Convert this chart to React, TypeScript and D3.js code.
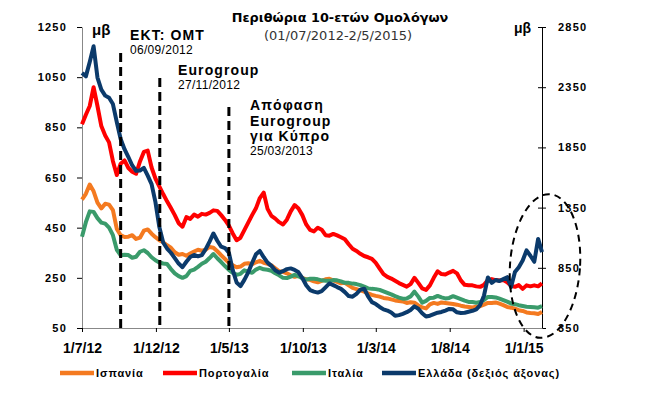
import React, { useEffect, useRef } from "react";
import * as d3 from "d3";

// x grid: one reading every 8 days, 01/07/2012 .. 08/02/2015
const dates = d3.timeDay.range(new Date(2012, 6, 1), new Date(2015, 1, 9), 8);

// 10y spreads, basis points (left axis)
const spain = [562, 585, 622, 595, 550, 527, 545, 542, 520, 445,
  420, 413, 414, 420, 405, 410, 438, 443, 426, 412,
  400, 392, 380, 370, 352, 342, 345, 338, 347, 355,
  362, 358, 362, 373, 370, 356, 340, 325, 310, 300,
  292, 295, 306, 308, 304, 312, 318, 310, 306, 300,
  288, 276, 274, 268, 260, 254, 258, 250, 244, 242,
  236, 232, 238, 244, 246, 240, 234, 228, 230, 220,
  210, 205, 200, 195, 188, 182, 178, 175, 170, 168,
  164, 160, 158, 156, 150, 153, 151, 140, 132, 128,
  144, 150, 146, 152, 150, 148, 146, 143, 139, 136,
  134, 132, 135, 137, 143, 150, 150, 152, 147, 141,
  134, 131, 127, 121, 118, 112, 110, 109, 106, 114];

const portugal = [862, 900, 935, 1010, 935, 855, 817, 790, 715, 660,
  705, 718, 688, 673, 665, 714, 752, 757, 690, 646,
  615, 584, 555, 528, 500, 468, 454, 492, 485, 502,
  494, 505, 502, 509, 519, 517, 500, 481, 458, 427,
  400, 410, 440, 470, 500, 527, 568, 590, 525, 497,
  486, 472, 463, 482, 515, 540, 526, 500, 463, 441,
  435, 450, 442, 420, 418, 425, 419, 412, 404, 384,
  366, 357, 346, 337, 332, 326, 310, 287, 265, 254,
  247, 238, 229, 222, 215, 225, 250, 230, 208, 202,
  220, 250, 276, 265, 263, 271, 278, 268, 240, 222,
  220, 220, 216, 214, 222, 241, 245, 241, 239, 241,
  232, 218, 214, 221, 206, 220, 216, 220, 216, 228];

const italy = [414, 472, 515, 513, 488, 470, 466, 450, 420, 362,
  340, 342, 341, 330, 334, 354, 360, 349, 332, 320,
  311, 307, 305, 285, 268, 257, 250, 257, 278, 283,
  294, 306, 314, 329, 345, 328, 313, 297, 282, 270,
  262, 266, 280, 275, 270, 283, 290, 284, 282, 278,
  268, 260, 250, 249, 255, 262, 256, 248, 243, 246,
  246, 244, 240, 238, 238, 241, 240, 236, 230, 230,
  227, 225, 221, 215, 208, 206, 205, 202, 196, 190,
  184, 177, 171, 167, 168, 176, 195, 175, 151, 158,
  170, 171, 178, 172, 168, 170, 177, 171, 165, 159,
  154, 154, 151, 154, 162, 174, 174, 172, 167, 161,
  155, 148, 145, 141, 138, 135, 134, 133, 131, 137];

// Greece, right axis
const greece = [2468, 2440, 2560, 2690, 2430, 2330, 2280, 2262, 2210, 2060,
  1920, 1835, 1770, 1700, 1655, 1658, 1680, 1615, 1545, 1395,
  1190, 1060, 1010, 975, 930, 885, 855, 900, 940, 957,
  945, 955, 1005, 1068, 1135, 1075, 1025, 1014, 975, 830,
  728, 698, 750, 812, 890, 962, 990, 938, 893, 866,
  830, 810, 822, 839, 845, 833, 813, 765, 705, 665,
  652, 644, 656, 688, 720, 706, 690, 675, 648, 615,
  610, 633, 668, 676, 612, 565, 549, 525, 505, 495,
  478, 451, 457, 468, 481, 500, 530, 510, 472, 445,
  452, 465, 477, 483, 495, 508, 505, 480, 475, 477,
  485, 493, 505, 540, 620, 770, 724, 749, 740, 756,
  772, 690, 815, 855, 910, 995, 950, 900, 1090, 980];

const seriesNames = ["Ισπανία", "Πορτογαλία", "Ιταλία", "Ελλάδα (δεξιός άξονας)"];
const seriesColors = ["#F47A20", "#FF0000", "#3A9B6B", "#0B3A6B"];

const leftTicks = [50, 250, 450, 650, 850, 1050, 1250];
const rightTicks = [350, 850, 1350, 1850, 2350, 2850];
const xTicks = ["2012-07-01", "2012-12-01", "2013-05-01", "2013-10-01", "2014-03-01", "2014-08-01", "2015-01-01"];

const eventDates = ["2012-09-19", "2012-12-09", "2013-05-01"];
const eventTitles = [["ΕΚΤ: ΟΜΤ"], ["Eurogroup"], ["Απόφαση", "Eurogroup", "για Κύπρο"]];
const eventLabels = ["06/09/2012", "27/11/2012", "25/03/2013"];

const parse = d3.timeParse("%Y-%m-%d");

export default function App() {
  const ref = useRef<SVGSVGElement>(null);

  useEffect(() => {
    const width = 649;
    const height = 393;
    const left = 82, right = 542, top = 27, bottom = 328;

    const svg = d3.select(ref.current)
      .attr("width", width)
      .attr("height", height);
    svg.selectAll("*").remove();

    const font = "'Liberation Sans', Arial, sans-serif";

    const x = d3.scaleTime()
      .domain([new Date(2012, 6, 1), new Date(2015, 1, 8)])
      .range([left, right]);
    const yLeft = d3.scaleLinear().domain([50, 1250]).range([bottom, top]);
    const yRight = d3.scaleLinear().domain([350, 2850]).range([bottom, top]);

    // title
    svg.append("text")
      .attr("x", 340).attr("y", 22)
      .attr("text-anchor", "middle")
      .style("font-family", "'DejaVu Sans', Verdana, sans-serif")
      .style("font-weight", "bold")
      .style("font-size", "12.8px")
      .text("Περιθώρια 10-ετών Ομολόγων");
    svg.append("text")
      .attr("x", 338).attr("y", 40)
      .attr("text-anchor", "middle")
      .style("font-family", "'DejaVu Sans', Verdana, sans-serif")
      .style("font-size", "13px")
      .style("fill", "#333")
      .text("(01/07/2012-2/5/2015)");

    // axes
    const leftAxis = svg.append("g")
      .attr("transform", `translate(${left},0)`)
      .call(d3.axisLeft(yLeft).tickValues(leftTicks).tickFormat(d3.format("d")).tickSize(5).tickSizeOuter(0).tickPadding(10));
    leftAxis.select(".domain").attr("stroke", "#888");

    const rightAxis = svg.append("g")
      .attr("transform", `translate(${right},0)`)
      .call(d3.axisRight(yRight).tickValues(rightTicks).tickFormat(d3.format("d")).tickSize(4).tickSizeOuter(0).tickPadding(12));
    rightAxis.selectAll(".tick line").attr("x1", -4);

    const xAxis = svg.append("g")
      .attr("transform", `translate(0,${bottom})`)
      .call(d3.axisBottom(x)
        .tickValues(xTicks.map(d => parse(d) as Date))
        .tickFormat(d3.timeFormat("%-d/%-m/%y") as any)
        .tickSize(4).tickSizeOuter(0).tickPadding(11));
    xAxis.select(".domain").attr("stroke", "#888");

    [leftAxis, rightAxis].forEach(g => {
      g.selectAll("text")
        .style("font-family", font)
        .style("font-weight", "bold")
        .style("font-size", "11px")
        .style("letter-spacing", "1.2px")
        .attr("fill", "#000");
    });
    xAxis.selectAll("text")
      .style("font-family", font)
      .style("font-weight", "bold")
      .style("font-size", "14px")
      .attr("fill", "#000");

    // units
    svg.append("text").attr("x", 92).attr("y", 35)
      .style("font-family", font).style("font-weight", "bold").style("font-size", "15px")
      .text("μβ");
    svg.append("text").attr("x", 514).attr("y", 33)
      .style("font-family", font).style("font-weight", "bold").style("font-size", "14px")
      .text("μβ");

    // lines
    const allSeries = [spain, portugal, italy, greece];
    allSeries.forEach((vals, i) => {
      const yScale = i === 3 ? yRight : yLeft;
      const line = d3.line<number>()
        .x((_, j) => x(dates[j]))
        .y(d => yScale(d));
      svg.append("path")
        .datum(vals)
        .attr("d", line)
        .attr("fill", "none")
        .attr("stroke", seriesColors[i])
        .attr("stroke-width", 4)
        .attr("stroke-linejoin", "round");
    });

    // event dashed lines and labels
    const lineTops = [53, 78, 107];
    const labelX = [130, 178, 250];
    const titleBase = [40, 75, 110];
    eventDates.forEach((d, i) => {
      const ex = x(parse(d) as Date);
      svg.append("line")
        .attr("x1", ex).attr("x2", ex)
        .attr("y1", lineTops[i]).attr("y2", bottom)
        .attr("stroke", "#000")
        .attr("stroke-width", 3)
        .attr("stroke-dasharray", "9,5");
      eventTitles[i].forEach((t, k) => {
        svg.append("text")
          .attr("x", labelX[i]).attr("y", titleBase[i] + k * 15.5)
          .style("font-family", font).style("font-weight", "bold")
          .style("font-size", "14px").style("letter-spacing", "1.1px")
          .text(t);
      });
      svg.append("text")
        .attr("x", labelX[i]).attr("y", titleBase[i] + (eventTitles[i].length - 1) * 15.5 + 14)
        .style("font-family", font)
        .style("font-size", "12px").style("letter-spacing", "0.3px")
        .text(eventLabels[i]);
    });

    // dashed ellipse around the latest Greek move
    svg.append("ellipse")
      .attr("cx", 545).attr("cy", 266)
      .attr("rx", 35).attr("ry", 72)
      .attr("transform", "rotate(4,545,266)")
      .attr("fill", "none")
      .attr("stroke", "#000")
      .attr("stroke-width", 2)
      .attr("stroke-dasharray", "7,5");

    // legend
    const legendX = [60, 163, 292, 382];
    seriesNames.forEach((name, i) => {
      svg.append("line")
        .attr("x1", legendX[i]).attr("x2", legendX[i] + 34)
        .attr("y1", 373).attr("y2", 373)
        .attr("stroke", seriesColors[i])
        .attr("stroke-width", 4.5);
      svg.append("text")
        .attr("x", legendX[i] + 36).attr("y", 377)
        .style("font-family", font).style("font-weight", "bold")
        .style("font-size", "11px").style("letter-spacing", "0.9px")
        .text(name);
    });
  }, []);

  return (
    <div style={{ position: "absolute", left: 0, top: 0, background: "#fff" }}>
      <svg ref={ref} style={{ display: "block" }}></svg>
    </div>
  );
}
